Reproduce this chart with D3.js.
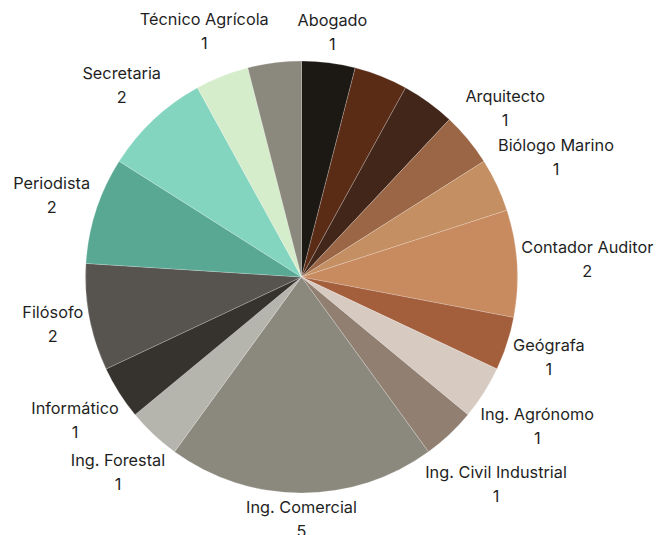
<!DOCTYPE html>
<html>
<head>
<meta charset="utf-8">
<script src="https://cdn.jsdelivr.net/npm/d3@7"></script>
<style>
  html, body { margin: 0; padding: 0; background: #fff; }
  svg { display: block; }
  text { font-family: Inter, "Noto Sans", sans-serif; font-size: 16.3px; fill: #1f1f1f; }
</style>
</head>
<body>
<svg id="chart" width="666" height="535"></svg>
<script>
// Data (clockwise from 12 o'clock). Empty names = slices whose label is not shown.
const categories = ["Abogado", "", "", "Arquitecto", "Biólogo Marino", "Contador Auditor", "Geógrafa",
  "Ing. Agrónomo", "Ing. Civil Industrial", "Ing. Comercial", "Ing. Forestal", "Informático",
  "Filósofo", "Periodista", "Secretaria", "Técnico Agrícola", ""];
const values = [1, 1, 1, 1, 1, 2, 1, 1, 1, 5, 1, 1, 2, 2, 2, 1, 1];
const colors = ["#1c1814", "#5a2c16", "#42261a", "#9a6646", "#c48f62", "#c88a5f", "#a35e3c",
  "#d7cbc1", "#917f72", "#8b897d", "#b5b4ad", "#36322e", "#575450", "#58a893", "#84d5bf",
  "#d6edcc", "#8b897d"];

const data = categories.map((c, i) => ({ name: c, value: values[i], color: colors[i] }));

const svg = d3.select("#chart");
const cx = 301.5, cy = 277, r = 216;
const g = svg.append("g").attr("transform", `translate(${cx},${cy})`);

const pie = d3.pie().value(d => d.value).sort(null);
const arc = d3.arc().innerRadius(0).outerRadius(r);
const arcs = pie(data);

g.selectAll("path.slice").data(arcs).enter().append("path")
  .attr("class", "slice")
  .attr("d", arc)
  .attr("fill", d => d.data.color)
  .attr("stroke", "rgba(255,255,255,0.35)")
  .attr("stroke-width", 0.6);

// Labels: two-line box placed outside, touching a circle of radius R0 along mid-angle
const R0 = 219, lh = 23;
arcs.filter(d => d.data.name !== "").forEach(d => {
  const a = (d.startAngle + d.endAngle) / 2;
  const ux = Math.sin(a), uy = -Math.cos(a);
  const lg = g.append("g");
  const t1 = lg.append("text").attr("text-anchor", "middle").text(d.data.name);
  const t2 = lg.append("text").attr("text-anchor", "middle").text(d.data.value);
  const w = Math.max(t1.node().getComputedTextLength(), t2.node().getComputedTextLength());
  const hw = w / 2, hh = lh;
  const s = Math.abs(ux) * hw + Math.abs(uy) * hh;
  const lx = ux * (R0 + s), ly = uy * (R0 + s);
  t1.attr("x", lx).attr("y", ly - lh / 2 + 5);
  t2.attr("x", lx).attr("y", ly + lh / 2 + 6);
});
</script>
</body>
</html>
